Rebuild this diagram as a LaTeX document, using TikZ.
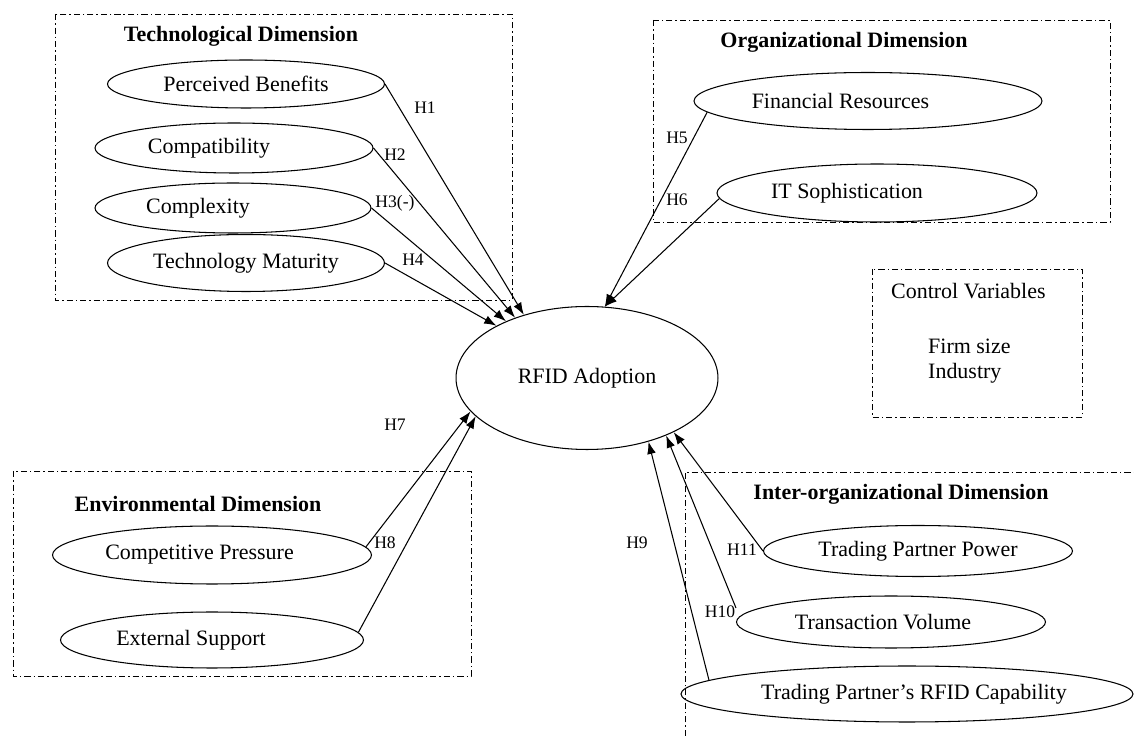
\documentclass[tikz,border=0pt]{standalone}
\usepackage{fontspec}
\setmainfont{Liberation Serif}
\usetikzlibrary{shapes,arrows.meta}
\tikzstyle{oval} = [draw, ellipse, inner sep=0pt, line width=0.6pt]
\tikzstyle{dimbox} = [draw, line width=0.5pt, dash pattern=on 3.5pt off 1.7pt on 0.8pt off 1.7pt]
\tikzstyle{title} = [font=\fontsize{12.5}{15}\selectfont\bfseries]
\tikzstyle{hyp} = [font=\fontsize{10}{12}\selectfont]
\tikzstyle{link} = [-{Latex[length=7pt,width=5pt]}, line width=0.6pt]

\begin{document}
\begin{tikzpicture}[x=0.02cm, y=-0.02cm, font=\fontsize{12.5}{15}\selectfont]

    \useasboundingbox (0,0) rectangle (1134,736);

    % dimension boxes
    \draw[dimbox] (55,14) rectangle (512,300);
    \draw[dimbox] (653,20) rectangle (1110,222);
    \draw[dimbox] (872,269) rectangle (1082,417);
    \draw[dimbox] (13,471) rectangle (471,676);
    \draw[dimbox] (685,736) -- (685,472) -- (1134,472);

    %=====================

    \node[title] (tech) at (241,36) {Technological Dimension};
    \node[oval, minimum width=5.54cm, minimum height=0.96cm] (pb) at (246,84) {Perceived Benefits};
    \node[oval, minimum width=5.56cm, minimum height=1.0cm] (comp) at (234,148) {Compatibility\hspace*{1.0cm}};
    \node[oval, minimum width=5.52cm, minimum height=1.0cm] (cplx) at (233,208) {Complexity\hspace*{1.4cm}};
    \node[oval, minimum width=5.54cm, minimum height=1.14cm] (tm) at (246,263) {Technology Maturity};

    \node[title] (org) at (844,42) {Organizational Dimension};
    \node[oval, minimum width=6.96cm, minimum height=1.14cm] (fr) at (868,101) {Financial Resources\hspace*{1.1cm}};
    \node[oval, minimum width=6.4cm, minimum height=1.16cm] (its) at (877,193) {IT Sophistication\hspace*{1.2cm}};

    \node[anchor=west] (ctrl) at (885,291) {Control Variables};
    \node[anchor=west] (firm) at (922,346) {Firm size};
    \node[anchor=west] (ind) at (922,373) {Industry};

    \node[oval, minimum width=5.24cm, minimum height=2.86cm] (rfid) at (587,378) {RFID Adoption};

    \node[title] (env) at (198,504) {Environmental Dimension};
    \node[oval, minimum width=6.38cm, minimum height=1.16cm] (cp) at (212,555) {Competitive Pressure\hspace*{0.5cm}};
    \node[oval, minimum width=6.06cm, minimum height=1.12cm] (es) at (212,640) {External Support\hspace*{0.84cm}};

    \node[title] (inter) at (901,494) {Inter-organizational Dimension};
    \node[oval, minimum width=6.18cm, minimum height=1.02cm] (tpp) at (918,551) {Trading Partner Power};
    \node[oval, minimum width=6.18cm, minimum height=1.04cm] (tv) at (891,622) {Transaction Volume\hspace*{0.32cm}};
    \node[oval, minimum width=8.9cm, minimum height=1.12cm] (cap) at (907,694) {\hspace*{0.28cm}Trading Partner's RFID Capability};

    %=====================

    \draw[link] (pb.east) -- (rfid.135);
    \draw[link] (comp.east) -- (rfid.140);
    \draw[link] (cplx.east) -- (rfid.145);
    \draw[link] (tm.east) -- (rfid.150);
    \draw[link] (fr.184) -- (rfid.76);
    \draw[link] (its.182) -- (rfid.76);
    \draw[link] (cp.3) -- (rfid.196);
    \draw[link] (es.3) -- (rfid.199);
    \draw[link] (cap.176) -- (rfid.-46);
    \draw[link] ([yshift=0.28cm]tv.west) -- (rfid.-36);
    \draw[link] (tpp.west) -- (rfid.-32);

    \node[hyp] (h1) at (425,108) {H1};
    \node[hyp] (h2) at (395,155) {H2};
    \node[hyp] (h3) at (395,203) {H3(-)};
    \node[hyp] (h4) at (413,260) {H4};
    \node[hyp] (h5) at (677,138) {H5};
    \node[hyp] (h6) at (677,200) {H6};
    \node[hyp] (h7) at (395,425) {H7};
    \node[hyp] (h8) at (385,543) {H8};
    \node[hyp] (h9) at (637,543) {H9};
    \node[hyp] (h10) at (720,612) {H10};
    \node[hyp] (h11) at (742,550) {H11};

\end{tikzpicture}
\end{document}
